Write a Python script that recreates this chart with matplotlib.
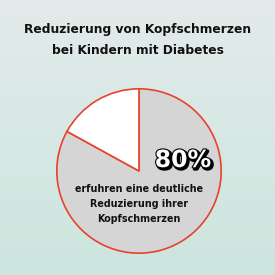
import numpy as np
import matplotlib
matplotlib.use("Agg")
import matplotlib.pyplot as plt
import matplotlib.patheffects as pe

title_lines = ["Reduzierung von Kopfschmerzen", "bei Kindern mit Diabetes"]
categories = ["deutliche Reduzierung", "keine deutliche Reduzierung"]
values = [83, 17]
big_label = "80%"
body_lines = ["erfuhren eine deutliche", "Reduzierung ihrer", "Kopfschmerzen"]

fig = plt.figure(figsize=(2.75, 2.75), dpi=100)
bg = fig.add_axes([0, 0, 1, 1])
grad = np.linspace(0, 1, 256).reshape(-1, 1)
top = np.array([0.89, 0.92, 0.92])
bot = np.array([0.80, 0.90, 0.87])
img = top[None, None, :] * (1 - grad[..., None]) + bot[None, None, :] * grad[..., None]
bg.imshow(img, aspect="auto", extent=[0, 1, 0, 1])
bg.set_xlim(0, 1); bg.set_ylim(0, 1)
bg.axis("off")

fam = ["DejaVu Sans"]
for i, t in enumerate(title_lines):
    fig.text(0.5, 1 - (30 + 20 * i) / 275, t, ha="center", va="center",
             fontsize=8.8, fontweight="bold", family=fam, color="#111111", zorder=10)

cx, cy, r = 139 / 275, 1 - 171 / 275, 83 / 275
ax = fig.add_axes([cx - r, cy - r, 2 * r, 2 * r])
ax.pie(values, colors=["#d5d5d5", "#ffffff"], startangle=90 + values[1] / 100 * 360,
       counterclock=True,
       wedgeprops=dict(edgecolor="#e8412c", linewidth=1.2))
ax.set_xlim(-1.01, 1.01); ax.set_ylim(-1.01, 1.01)
ax.set_aspect("equal")
ax.axis("off")

fig.text(183 / 275, 1 - 160 / 275, big_label, ha="center", va="center",
         fontsize=17, fontweight="bold", family=fam, color="white", zorder=10,
         path_effects=[pe.SimpleLineShadow(offset=(1.2, -1.2), shadow_color="black", alpha=1, linewidth=2.4),
                       pe.withStroke(linewidth=1.6, foreground="black")])
for i, t in enumerate(body_lines):
    fig.text(139 / 275, 1 - (189 + 15 * i) / 275, t, ha="center", va="center",
             fontsize=6.9, fontweight="bold", family=fam, color="#111111", zorder=10)

fig.savefig("out.png", dpi=100)
